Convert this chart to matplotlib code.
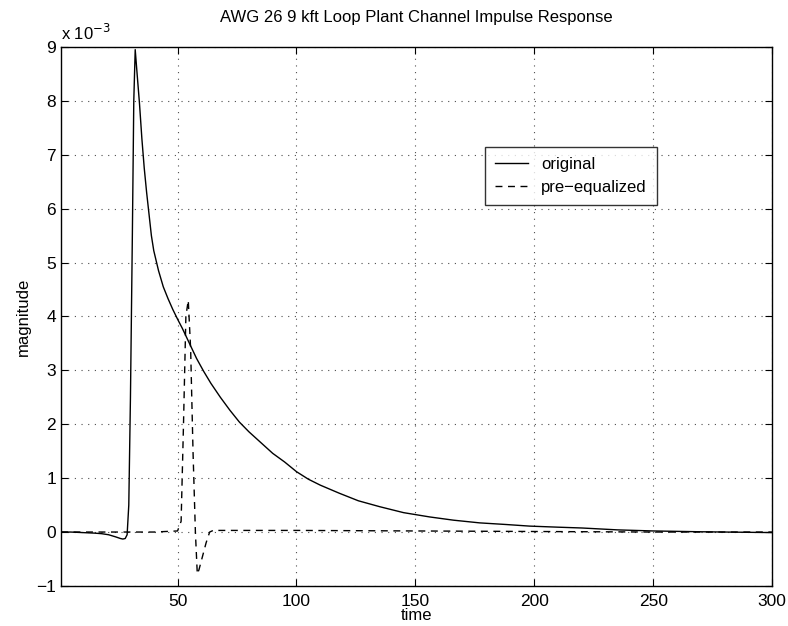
import matplotlib.pyplot as plt
import numpy as np

plt.rcParams['font.family'] = ['Liberation Sans', 'DejaVu Sans']

# original channel impulse response (values in units of 1e-3)
orig_t = [1, 5, 10, 15, 18, 21, 24, 26, 27, 28, 28.8, 29.5, 30.2, 31, 31.6, 32.2,
          33, 34, 35, 36, 37, 38, 39, 40, 42, 44, 46, 48, 50, 52, 55, 58, 61, 64,
          68, 72, 76, 80, 85, 90, 95, 100, 105, 110, 118, 126, 135, 145, 156, 166,
          177, 188, 198, 210, 220, 235, 250, 270, 300]
orig_y = [0, 0, -0.01, -0.02, -0.03, -0.05, -0.09, -0.12, -0.13, -0.12, -0.05, 0.5,
          2.5, 5.5, 8.0, 8.95, 8.5, 7.95, 7.3, 6.75, 6.3, 5.9, 5.5, 5.22, 4.85, 4.55,
          4.33, 4.13, 3.95, 3.78, 3.5, 3.22, 2.98, 2.76, 2.5, 2.26, 2.04, 1.86, 1.66,
          1.46, 1.3, 1.12, 0.98, 0.87, 0.72, 0.58, 0.47, 0.36, 0.28, 0.22, 0.17,
          0.14, 0.11, 0.09, 0.075, 0.04, 0.02, 0.005, -0.01]

# pre-equalized response
pre_t = [1, 10, 20, 30, 40, 50, 51.5, 52.5, 53.5, 54.5, 55.5, 56.5, 57.5, 58.3, 59,
         60.5, 62, 63.5, 65, 80, 100, 150, 200, 250, 300]
pre_y = [0, 0, 0, 0, 0, 0.02, 0.2, 2.0, 4.0, 4.3, 3.4, 1.5, 0.0, -0.78, -0.7, -0.45,
         -0.2, 0.0, 0.03, 0.03, 0.03, 0.02, 0.01, 0.0, 0.0]

xticks = [50, 100, 150, 200, 250, 300]
yticks = [-1, 0, 1, 2, 3, 4, 5, 6, 7, 8, 9]

fig = plt.figure(figsize=(7.88, 6.26), dpi=100)
ax = fig.add_axes([0.0774, 0.064, 0.9026, 0.861])

ax.plot(orig_t, orig_y, color='black', lw=1.0, label='original')
ax.plot(pre_t, pre_y, color='black', lw=1.0, ls=(0, (5, 4)), label='pre\u2212equalized')

ax.set_xlim(1, 300)
ax.set_ylim(-1, 9)
ax.set_xticks(xticks)
ax.set_yticks(yticks)
ax.set_yticklabels(['\u22121'] + [str(v) for v in yticks[1:]])
ax.tick_params(direction='in', top=True, right=True, labelsize=12.5, length=5)
ax.tick_params(axis='x', pad=6)
ax.grid(True, ls=(0, (1, 5)), color='0.3', lw=0.8)
for s in ax.spines.values():
    s.set_linewidth(1.0)

ax.text(0.0, 1.008, r'x 10$^{-3}$', transform=ax.transAxes, ha='left', va='bottom',
        fontsize=12)
ax.set_title('AWG 26 9 kft Loop Plant Channel Impulse Response', fontsize=12, pad=18)
ax.set_xlabel('time', fontsize=12, labelpad=-1)
ax.set_ylabel('magnitude', fontsize=12)

leg = ax.legend(loc='upper left', bbox_to_anchor=(0.584, 0.83), fontsize=12,
                frameon=True, fancybox=False, edgecolor='black', handlelength=2.0,
                borderpad=0.6)
leg.get_frame().set_linewidth(1.0)

fig.savefig('out.png', dpi=100)
